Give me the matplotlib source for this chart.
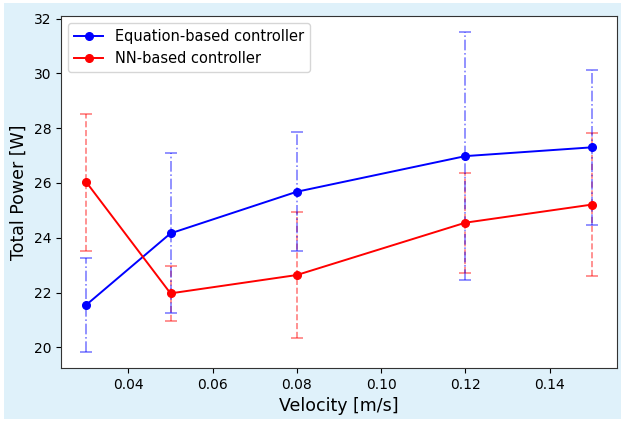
import numpy as np
import matplotlib
matplotlib.use("Agg")
import matplotlib.pyplot as plt
import matplotlib.patches as patches

# velocities [m/s]
velocity = [0.03, 0.05, 0.08, 0.12, 0.15]

# equation-based controller: mean power and spread
eq_power = [21.55, 24.16, 25.68, 26.98, 27.30]
eq_err = [1.72, 2.92, 2.18, 4.53, 2.83]

# NN-based controller
nn_power = [26.03, 21.97, 22.64, 24.55, 25.21]
nn_err = [2.50, 1.00, 2.30, 1.82, 2.60]

fig = plt.figure(figsize=(6.21, 4.22), dpi=100, facecolor="white")

# light blue panel behind the plot
bg = patches.Rectangle((4 / 621, 3 / 422), 617 / 621, 416 / 422,
                       transform=fig.transFigure, facecolor="#dff1fa",
                       edgecolor="none", zorder=-10)
fig.patches.append(bg)

ax = fig.add_axes([61 / 621, 54 / 422, 556 / 621, 352 / 422])

# error bars first (faded), then the mean curves
eb_nn = ax.errorbar(velocity, nn_power, yerr=nn_err, fmt="none", ecolor="red",
                    alpha=0.5, capsize=4, elinewidth=1.2, capthick=1.2)
eb_nn[2][0].set_linestyle("--")
eb_eq = ax.errorbar(velocity, eq_power, yerr=eq_err, fmt="none", ecolor="blue",
                    alpha=0.5, capsize=4, elinewidth=1.2, capthick=1.2)
eb_eq[2][0].set_linestyle("-.")

ax.plot(velocity, eq_power, "o-", color="blue", lw=1.4, ms=5.5,
        label="Equation-based controller")
ax.plot(velocity, nn_power, "o-", color="red", lw=1.4, ms=5.5,
        label="NN-based controller")

ax.set_xlabel("Velocity [m/s]", fontsize=12.5)
ax.set_ylabel("Total Power [W]", fontsize=12.5)
ax.tick_params(labelsize=10)
ax.set_yticks([20, 22, 24, 26, 28, 30, 32])
for sp in ax.spines.values():
    sp.set_color("#333333")

ax.legend(loc="upper left", fontsize=10.5)

plt.savefig("out.png", dpi=100, facecolor=fig.get_facecolor())
